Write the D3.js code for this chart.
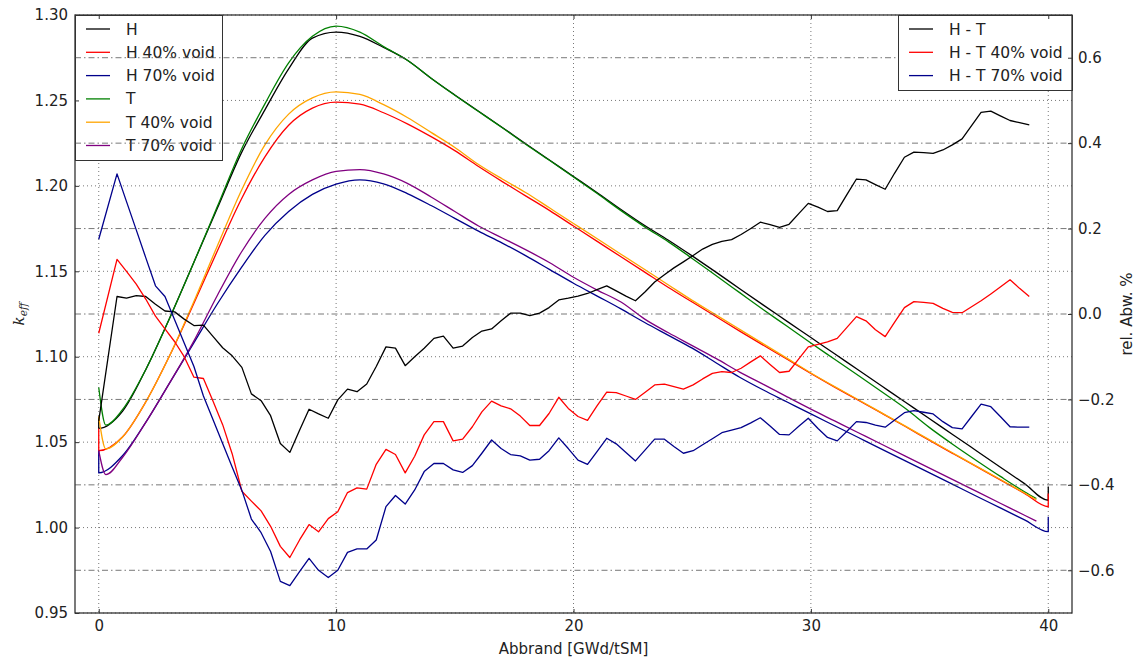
<!DOCTYPE html>
<html>
<head>
<meta charset="utf-8">
<script src="https://cdn.jsdelivr.net/npm/d3@7"></script>
<style>
  body { margin: 0; background: #fff; }
  text { font-family: "DejaVu Sans", sans-serif; fill: #222; }
</style>
</head>
<body>
<svg id="chart" width="1138" height="658"></svg>
<script>
// keff over burnup, H and T codes, plus the relative deviation H - T (right axis)

// burnup steps of the keff curves [GWd/tSM]
var burnupH = [0, 0, 1, 2, 3, 4, 5, 6, 7, 8, 9, 10, 11, 12, 13, 14, 15, 16, 17, 18, 19, 20,
  21, 22, 23, 24, 25, 26, 27, 28, 29, 30, 31, 32, 33, 34, 35, 36, 37, 38, 39, 40, 40];
var burnupT = [0, 0.3, 1, 2, 3, 4, 5, 6, 7, 8, 9, 10, 11, 12, 13, 14, 15, 16, 17, 18, 19, 20,
  21, 22, 23, 24, 25, 26, 27, 28, 29, 30, 31, 32, 33, 34, 35, 36, 37, 38, 39, 39.5];

var keffH = [1.065, 1.058, 1.068, 1.093, 1.123, 1.155, 1.187, 1.219, 1.2445, 1.2685, 1.2865, 1.290,
  1.2875, 1.281, 1.2735, 1.263, 1.2532, 1.2437, 1.2342, 1.2245, 1.215, 1.2055, 1.196, 1.1862,
  1.1768, 1.1682, 1.159, 1.1495, 1.1398, 1.1302, 1.1207, 1.1112, 1.1017, 1.0922, 1.0827, 1.0732,
  1.0637, 1.0542, 1.0447, 1.0352, 1.0257, 1.016, 1.024];
var keffH40 = [1.058, 1.045, 1.053, 1.074, 1.101, 1.131, 1.162, 1.192, 1.217, 1.2355, 1.2455, 1.249,
  1.2478, 1.2428, 1.2363, 1.2288, 1.2206, 1.2113, 1.2025, 1.194, 1.1855, 1.1765, 1.1675, 1.1585,
  1.1495, 1.1405, 1.132, 1.1235, 1.115, 1.1067, 1.0985, 1.0902, 1.0822, 1.0745, 1.0668, 1.059,
  1.051, 1.0432, 1.0355, 1.0278, 1.020, 1.0122, 1.020];
var keffH70 = [1.045, 1.032, 1.042, 1.062, 1.085, 1.108, 1.131, 1.152, 1.171, 1.185, 1.195, 1.201,
  1.2035, 1.2012, 1.1955, 1.1885, 1.181, 1.1735, 1.1665, 1.159, 1.151, 1.143, 1.1355, 1.128,
  1.120, 1.1125, 1.105, 1.0965, 1.088, 1.0805, 1.0735, 1.0665, 1.0596, 1.0527, 1.0458, 1.0389,
  1.032, 1.0251, 1.0182, 1.0114, 1.0045, 0.9976, 1.0064];

var keffT = [1.082, 1.060, 1.069, 1.093, 1.123, 1.155, 1.188, 1.221, 1.248, 1.272, 1.2875, 1.2935,
  1.290, 1.2815, 1.2735, 1.263, 1.253, 1.2435, 1.234, 1.2242, 1.2148, 1.2052, 1.1955, 1.1855,
  1.176, 1.1672, 1.1575, 1.1475, 1.1375, 1.1275, 1.1178, 1.108, 1.0985, 1.089, 1.0793, 1.0695,
  1.0585, 1.0485, 1.039, 1.0298, 1.021, 1.017];
var keffT40 = [1.065, 1.046, 1.053, 1.074, 1.101, 1.132, 1.165, 1.197, 1.224, 1.242, 1.2515, 1.255,
  1.2535, 1.2475, 1.240, 1.2313, 1.2225, 1.2125, 1.204, 1.196, 1.187, 1.178, 1.169, 1.160,
  1.151, 1.142, 1.133, 1.1245, 1.116, 1.1075, 1.099, 1.0905, 1.0825, 1.0748, 1.067, 1.0592,
  1.0513, 1.0435, 1.0357, 1.028, 1.0202, 1.0163];
var keffT70 = [1.045, 1.031, 1.041, 1.062, 1.085, 1.109, 1.136, 1.161, 1.181, 1.195, 1.2035, 1.2085,
  1.2095, 1.207, 1.2015, 1.1935, 1.185, 1.1765, 1.1695, 1.1625, 1.155, 1.1465, 1.139, 1.132,
  1.122, 1.114, 1.1065, 1.099, 1.091, 1.0838, 1.0765, 1.0693, 1.0624, 1.0555, 1.0486, 1.0417,
  1.0348, 1.0279, 1.021, 1.0141, 1.0072, 1.0038];

// burnup steps of the deviation curves
var burnupDiff = [0, 0.77, 1.17, 1.58, 1.98, 2.39, 2.79, 3.20, 3.60, 4.01, 4.41, 4.82, 5.22, 5.62,
  6.03, 6.43, 6.84, 7.24, 7.65, 8.05, 8.46, 8.86, 9.26, 9.67, 10.07, 10.48, 10.88, 11.29, 11.69,
  12.10, 12.50, 12.91, 13.31, 13.71, 14.12, 14.52, 14.93, 15.33, 15.74, 16.14, 16.55, 16.95, 17.35,
  17.76, 18.16, 18.57, 18.97, 19.38, 19.78, 20.19, 20.59, 20.99, 21.40, 21.80, 22.21, 22.61, 23.02,
  23.42, 23.83, 24.23, 24.63, 25.04, 25.44, 25.85, 26.25, 26.66, 27.06, 27.47, 27.87, 28.28, 28.68,
  29.08, 29.49, 29.89, 30.30, 30.70, 31.11, 31.51, 31.92, 32.32, 32.72, 33.13, 33.53, 33.94, 34.34,
  34.75, 35.15, 35.56, 35.96, 36.37, 36.77, 37.17, 37.58, 37.98, 38.39, 38.79, 39.20];

// rel. deviation H - T [%]
var diffH = [-0.25, 0.041, 0.037, 0.043, 0.041, 0.023, 0.007, 0.005, -0.012, -0.027, -0.026,
  -0.053, -0.079, -0.098, -0.125, -0.187, -0.203, -0.238, -0.303, -0.324, -0.272, -0.223, -0.234,
  -0.244, -0.201, -0.176, -0.182, -0.164, -0.123, -0.077, -0.080, -0.121, -0.100, -0.080, -0.057,
  -0.052, -0.080, -0.075, -0.055, -0.040, -0.035, -0.016, 0.002, 0.002, -0.004, 0.002, 0.015,
  0.033, 0.037, 0.042, 0.048, 0.057, 0.066, 0.054, 0.042, 0.031, 0.052, 0.075, 0.092, 0.108,
  0.122, 0.137, 0.152, 0.163, 0.170, 0.174, 0.186, 0.200, 0.215, 0.209, 0.203, 0.210, 0.235,
  0.259, 0.250, 0.240, 0.242, 0.279, 0.316, 0.314, 0.303, 0.292, 0.330, 0.367, 0.379, 0.378,
  0.376, 0.384, 0.396, 0.410, 0.441, 0.472, 0.475, 0.464, 0.453, 0.448, 0.443];
var diffH40 = [-0.045, 0.128, 0.10, 0.07, 0.035, -0.005, -0.035, -0.065, -0.10, -0.148, -0.151,
  -0.205, -0.259, -0.327, -0.415, -0.438, -0.461, -0.497, -0.544, -0.570, -0.529, -0.493, -0.510,
  -0.479, -0.463, -0.418, -0.407, -0.410, -0.352, -0.317, -0.329, -0.372, -0.333, -0.283, -0.252,
  -0.252, -0.297, -0.293, -0.264, -0.229, -0.204, -0.215, -0.222, -0.239, -0.261, -0.261, -0.233,
  -0.195, -0.221, -0.240, -0.249, -0.215, -0.183, -0.184, -0.192, -0.200, -0.183, -0.166, -0.164,
  -0.170, -0.176, -0.166, -0.152, -0.139, -0.135, -0.137, -0.127, -0.112, -0.098, -0.118, -0.137,
  -0.134, -0.105, -0.077, -0.071, -0.065, -0.057, -0.032, -0.006, -0.016, -0.037, -0.053, -0.019,
  0.015, 0.029, 0.027, 0.025, 0.013, 0.004, 0.003, 0.017, 0.031, 0.047, 0.063, 0.080, 0.060, 0.041];
var diffH70 = [0.175, 0.328, 0.263, 0.197, 0.132, 0.066, 0.041, -0.014, -0.068, -0.123, -0.192,
  -0.248, -0.303, -0.358, -0.413, -0.480, -0.512, -0.556, -0.626, -0.636, -0.603, -0.572, -0.600,
  -0.617, -0.600, -0.558, -0.550, -0.550, -0.529, -0.451, -0.425, -0.445, -0.412, -0.369, -0.350,
  -0.350, -0.365, -0.371, -0.355, -0.326, -0.295, -0.315, -0.329, -0.332, -0.342, -0.340, -0.320,
  -0.290, -0.315, -0.342, -0.352, -0.322, -0.291, -0.304, -0.324, -0.344, -0.318, -0.293, -0.293,
  -0.310, -0.326, -0.320, -0.306, -0.292, -0.278, -0.272, -0.266, -0.255, -0.243, -0.262, -0.282,
  -0.283, -0.263, -0.244, -0.268, -0.289, -0.297, -0.275, -0.252, -0.254, -0.260, -0.265, -0.248,
  -0.231, -0.226, -0.230, -0.234, -0.252, -0.266, -0.269, -0.240, -0.211, -0.217, -0.240, -0.264,
  -0.265, -0.265];

// ticks
var xTicks = [0, 10, 20, 30, 40];
var keffTicks = [0.95, 1.00, 1.05, 1.10, 1.15, 1.20, 1.25, 1.30];
var diffTicks = [-0.6, -0.4, -0.2, 0.0, 0.2, 0.4, 0.6];

var keffSeries = [
  {name: "H", x: burnupH, y: keffH, color: "#000000"},
  {name: "H 40% void", x: burnupH, y: keffH40, color: "#ff0000"},
  {name: "H 70% void", x: burnupH, y: keffH70, color: "#00008b"},
  {name: "T", x: burnupT, y: keffT, color: "#008000"},
  {name: "T 40% void", x: burnupT, y: keffT40, color: "#ffa500"},
  {name: "T 70% void", x: burnupT, y: keffT70, color: "#800080"}
];
var diffSeries = [
  {name: "H - T", x: burnupDiff, y: diffH, color: "#000000"},
  {name: "H - T 40% void", x: burnupDiff, y: diffH40, color: "#ff0000"},
  {name: "H - T 70% void", x: burnupDiff, y: diffH70, color: "#00008b"}
];

// set the dimensions of the plot area
var margin = {top: 15, right: 66, bottom: 45, left: 75},
    width = 1138 - margin.left - margin.right,
    height = 658 - margin.top - margin.bottom;

var svg = d3.select("#chart");
var g = svg.append("g").attr("transform", "translate(" + margin.left + "," + margin.top + ")");

var x = d3.scaleLinear().domain([-1, 41]).range([0, width]);
var yL = d3.scaleLinear().domain([0.95, 1.30]).range([height, 0]);
var yR = d3.scaleLinear().domain([-0.7, 0.7]).range([height, 0]);

// left grid: dotted
g.append("g").selectAll("line").data(keffTicks).enter().append("line")
  .attr("x1", 0).attr("x2", width)
  .attr("y1", function(d) { return yL(d); }).attr("y2", function(d) { return yL(d); })
  .attr("stroke", "#555").attr("stroke-width", 0.8).attr("stroke-dasharray", "1,3");
g.append("g").selectAll("line").data(xTicks).enter().append("line")
  .attr("y1", 0).attr("y2", height)
  .attr("x1", function(d) { return x(d); }).attr("x2", function(d) { return x(d); })
  .attr("stroke", "#555").attr("stroke-width", 0.8).attr("stroke-dasharray", "1,3");

function drawLines(series, yScale, curve) {
  series.forEach(function(s) {
    var line = d3.line()
      .curve(curve)
      .x(function(d, i) { return x(s.x[i]); })
      .y(function(d) { return yScale(d); });
    g.append("path")
      .datum(s.y)
      .attr("fill", "none")
      .attr("stroke", s.color)
      .attr("stroke-width", 1.3)
      .attr("stroke-linejoin", "round")
      .attr("d", line);
  });
}

function drawLegend(series, left, w, h) {
  var lg = g.append("g").attr("transform", "translate(" + left + ",0)");
  lg.append("rect").attr("x", 0.5).attr("y", 0.5).attr("width", w).attr("height", h)
    .attr("fill", "#fff").attr("stroke", "#333").attr("stroke-width", 1);
  var item = lg.selectAll(".item").data(series).enter().append("g")
    .attr("transform", function(d, i) { return "translate(0," + (14 + i * 23.3) + ")"; });
  item.append("line").attr("x1", 11).attr("x2", 35)
    .attr("stroke", function(d) { return d.color; }).attr("stroke-width", 1.3);
  item.append("text").attr("x", 51).attr("dy", "0.36em")
    .style("font-size", "15.5px").text(function(d) { return d.name; });
}

// smooth keff curves, zigzag deviations stay straight segments
drawLines(keffSeries, yL, d3.curveMonotoneX);
drawLegend(keffSeries, 0, 147, 145);

// right grid: dash-dot (drawn over the left legend, like the twin axes)
g.append("g").selectAll("line").data(diffTicks).enter().append("line")
  .attr("x1", 0).attr("x2", width)
  .attr("y1", function(d) { return yR(d); }).attr("y2", function(d) { return yR(d); })
  .attr("stroke", "#555").attr("stroke-width", 0.8).attr("stroke-dasharray", "6,3,1.5,3");

drawLines(diffSeries, yR, d3.curveLinear);
drawLegend(diffSeries, 823, 174, 75);

// axes, ticks pointing inwards
g.append("g").attr("transform", "translate(0," + height + ")")
  .call(d3.axisBottom(x).tickValues(xTicks).tickSizeInner(-4).tickSizeOuter(0).tickPadding(7));
g.append("g")
  .call(d3.axisTop(x).tickValues(xTicks).tickSizeInner(-4).tickSizeOuter(0).tickFormat(""));
g.append("g")
  .call(d3.axisLeft(yL).tickValues(keffTicks).tickSizeInner(-4).tickSizeOuter(0).tickPadding(7)
    .tickFormat(d3.format(".2f")));
g.append("g").attr("transform", "translate(" + width + ",0)")
  .call(d3.axisRight(yR).tickValues(diffTicks).tickSizeInner(-4).tickSizeOuter(0).tickPadding(6)
    .tickFormat(d3.format(".1f")));

g.selectAll(".domain").remove();
g.selectAll(".tick line").attr("stroke", "#333");
g.selectAll(".tick text").style("font-size", "15px").attr("fill", "#222");

// frame
g.append("rect").attr("x", 0).attr("y", 0).attr("width", width).attr("height", height)
  .attr("fill", "none").attr("stroke", "#333").attr("stroke-width", 1.3);

// axis labels
svg.append("text").attr("x", margin.left + width / 2).attr("y", 654)
  .attr("text-anchor", "middle").style("font-size", "15px").text("Abbrand [GWd/tSM]");

svg.append("text").attr("transform", "translate(1132," + (margin.top + height / 2) + ") rotate(-90)")
  .attr("text-anchor", "middle").style("font-size", "15px").text("rel. Abw. %");

var kl = svg.append("text").attr("transform", "translate(24," + (margin.top + height / 2) + ") rotate(-90)")
  .attr("text-anchor", "middle")
  .style("font-family", "'DejaVu Serif', serif").style("font-style", "italic").style("font-size", "15px");
kl.append("tspan").text("k");
kl.append("tspan").attr("dy", "0.3em").style("font-size", "10.5px").text("eff");
</script>
</body>
</html>
